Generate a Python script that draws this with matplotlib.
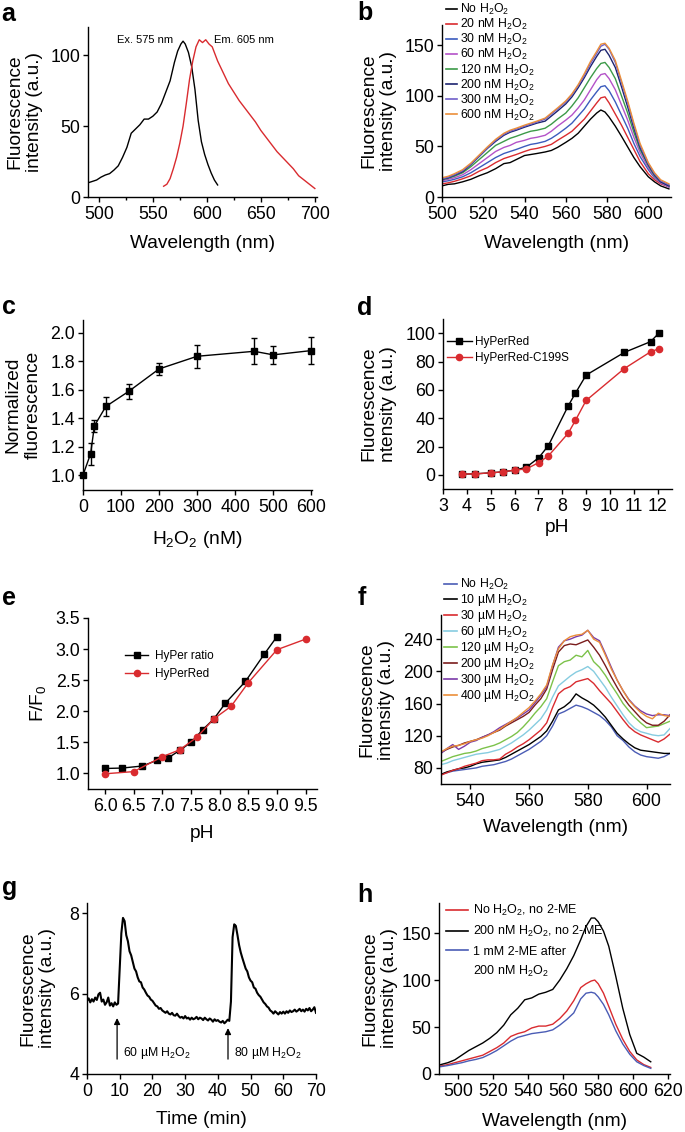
import numpy as np
import matplotlib
matplotlib.use('Agg')
from matplotlib import pyplot as plt
from matplotlib.lines import Line2D
from matplotlib.ticker import FormatStrFormatter

plt.rcParams['font.family'] = ['Liberation Sans', 'DejaVu Sans']
plt.rcParams['mathtext.fontset'] = 'custom'
plt.rcParams['mathtext.rm'] = 'Liberation Sans'
plt.rcParams['mathtext.it'] = 'Liberation Sans:italic'
plt.rcParams['mathtext.bf'] = 'Liberation Sans:bold'

RED = '#d92b2f'
BLUE = '#4a5cb5'

# ---- a: excitation / emission spectra
ex_wl = [490, 494, 498, 502, 506, 510, 514, 518, 522, 526, 530, 534, 538, 542, 546, 550, 554, 558,
         562, 566, 570, 573, 576, 578, 580, 583, 586, 589, 592, 595, 598, 601, 604, 607, 610]
ex_int = [10, 11, 12, 14, 15.5, 16.5, 19, 22, 28, 35, 45, 48, 51, 55, 55, 57, 60, 66,
          74, 82, 95, 103, 108, 110, 108, 102, 92, 76, 54, 39, 30, 23, 17, 12, 8.5]
em_wl = [560, 563, 566, 569, 572, 575, 578, 581, 584, 587, 590, 593, 596, 599, 602, 605, 610, 615,
         620, 625, 630, 635, 640, 645, 650, 655, 660, 665, 670, 675, 680, 685, 690, 695, 700]
em_int = [7.6, 9, 13, 20, 28, 38, 50, 66, 83, 96, 106, 111, 109, 111, 108, 106, 96, 88,
          80, 74, 68, 63, 58, 53, 47, 42, 37, 32, 28, 24, 20, 15, 12, 9, 6]

# ---- b: spectra vs nM H2O2
b_wl = [500, 503, 506, 510, 514, 518, 522, 526, 530, 533, 536, 540, 543, 546, 550, 553, 556, 560,
        563, 566, 569, 572, 575, 577, 579, 581, 584, 587, 590, 593, 596, 600, 603, 606, 610]
b_labels = ['No H$_2$O$_2$', '20 nM H$_2$O$_2$', '30 nM H$_2$O$_2$', '60 nM H$_2$O$_2$',
            '120 nM H$_2$O$_2$', '200 nM H$_2$O$_2$', '300 nM H$_2$O$_2$', '600 nM H$_2$O$_2$']
b_colors = ['black', RED, '#3b5bbd', '#b452c8', '#3c9a48', '#1c2470', '#6f5fc8', '#eb8f3a']
b_no = [11, 12.5, 13, 15, 17.5, 21, 24, 28, 33, 34, 37, 41, 42, 43, 44.5, 46, 49, 54,
        58, 63, 70, 77, 83, 86, 84, 79, 70, 60, 49.5, 39, 30, 20, 15, 11, 8]
b_20 = [13, 14, 15.5, 18, 21, 25.5, 29, 34, 38, 40, 42, 45, 47, 48, 50, 52, 56, 61,
        65, 71, 77, 85, 93, 98, 99, 93, 82, 71, 59, 47, 35, 23, 17, 13, 10]
b_30 = [15, 16, 17.5, 20, 24, 29, 34, 39, 43, 45, 47, 50, 52, 53, 55, 58, 62, 68,
        73, 80, 87, 96, 104, 109, 110, 105, 94, 81, 68, 53, 40, 27, 19, 14, 10]
b_60 = [16, 17.5, 19, 22, 27, 33, 39, 45, 49, 51, 54, 56, 58, 59, 61, 65, 70, 76,
        81, 88, 96, 106, 116, 121, 122, 117, 106, 91, 76, 59, 44, 29, 20, 14, 10]
b_120 = [17, 18.5, 20.5, 24, 30, 37, 44, 51, 55, 58, 60, 63, 65, 66, 68, 72, 77, 83,
         90, 98, 108, 118, 127, 132, 133, 128, 117, 100, 83, 64, 47, 31, 21, 15, 11]
b_200 = [17.5, 19, 21.5, 25, 32, 40, 48, 55, 61, 64, 66, 69, 71, 73, 75, 80, 85, 92,
         99, 108, 118, 129, 139, 145, 146, 140, 128, 109, 89, 68, 49, 32, 22, 15, 11]
b_300 = [18, 19.5, 22, 26, 32.5, 40.5, 48.5, 56, 62, 65, 67, 70, 72, 74, 77, 82, 87, 94,
         101, 110, 120, 132, 142, 149, 151, 146, 133, 113, 93, 71, 51, 33, 23, 16, 12]
b_600 = [19, 20.5, 23, 27, 33.5, 41.5, 49.5, 57, 63, 66, 68, 71, 73, 75, 78, 83, 88, 95,
         102, 111, 122, 134, 144, 151, 152, 147, 135, 115, 95, 73, 53, 34, 24, 17, 13]
b_series = [b_no, b_20, b_30, b_60, b_120, b_200, b_300, b_600]

# ---- c: dose response
c_conc = [0, 20, 30, 60, 120, 200, 300, 450, 500, 600]
c_norm = [1.0, 1.15, 1.346, 1.482, 1.588, 1.746, 1.835, 1.87, 1.845, 1.875]
c_err = [0.0, 0.077, 0.04, 0.07, 0.05, 0.04, 0.08, 0.09, 0.065, 0.095]

# ---- d: pH dependence
d_ph_red = [3.8, 4.35, 5.0, 5.5, 6.0, 6.5, 7.02, 7.42, 8.25, 8.55, 9.0, 10.6, 11.7, 12.05]
d_hyperred = [0.5, 0.7, 1.4, 2.1, 3.3, 5.4, 12.2, 20.7, 48.7, 57.6, 70.4, 86.4, 94, 100]
d_c199s = [0.5, 0.7, 1.4, 2.1, 3.3, 4.2, 8.7, 13.4, 29.4, 38.4, 52.5, 75, 86.8, 89]

# ---- e: F/F0 vs pH
e_ph_hyper = [6.0, 6.3, 6.65, 6.9, 7.1, 7.3, 7.5, 7.7, 7.9, 8.1, 8.45, 8.78, 9.0]
e_hyper = [1.08, 1.087, 1.12, 1.21, 1.25, 1.37, 1.50, 1.70, 1.88, 2.13, 2.48, 2.92, 3.20]
e_ph_red = [6.0, 6.5, 7.0, 7.3, 7.6, 7.9, 8.2, 8.5, 9.0, 9.5]
e_red = [0.995, 1.03, 1.27, 1.38, 1.58, 1.88, 2.08, 2.46, 2.99, 3.16]

# ---- f: spectra vs uM H2O2
f_wl = [530, 532, 534, 536, 538, 540, 542, 544, 546, 548, 550, 552, 554, 556, 558, 560, 562, 564, 566, 568,
        570, 572, 574, 576, 578, 580, 582, 584, 586, 588, 590, 592, 594, 596, 598, 600, 602, 604, 606, 608]
f_labels = ['No H$_2$O$_2$', '10 µM H$_2$O$_2$', '30 µM H$_2$O$_2$', '60 µM H$_2$O$_2$',
            '120 µM H$_2$O$_2$', '200 µM H$_2$O$_2$', '300 µM H$_2$O$_2$', '400 µM H$_2$O$_2$']
f_colors = [BLUE, 'black', RED, '#86cce0', '#7cc24a', '#7a1c1c', '#7a3aa8', '#eb8f3a']
f_no = [72, 74, 76, 77, 78, 79, 80, 82, 83, 84, 86, 88, 91, 95, 99, 103, 108, 113, 120, 132,
        147, 150, 154, 158, 156, 153, 149, 145, 139, 131, 120, 114, 106, 100, 96, 94, 93, 92, 94, 98]
f_10 = [72, 75, 77, 79, 80, 82, 85, 87, 88, 89, 90, 93, 97, 101, 105, 109, 114, 119, 126, 138,
        152, 156, 162, 172, 167, 163, 158, 151, 143, 133, 123, 116, 110, 105, 102, 101, 100, 99, 98, 98]
f_30 = [71, 74, 77, 79, 82, 84, 86, 89, 90, 90, 91, 97, 101, 106, 110, 115, 121, 127, 136, 155,
        172, 178, 181, 187, 189, 191, 185, 176, 168, 160, 150, 140, 131, 125, 121, 118, 115, 112, 116, 122]
f_60 = [84, 86, 89, 91, 93, 95, 97, 98, 99, 101, 103, 107, 111, 116, 121, 127, 134, 141, 152, 168,
        182, 188, 194, 199, 202, 206, 200, 190, 180, 168, 157, 146, 136, 129, 125, 123, 121, 120, 121, 129]
f_120 = [88, 91, 94, 96, 98, 99, 101, 104, 106, 108, 111, 115, 119, 124, 131, 139, 148, 156, 166, 187,
         207, 212, 214, 220, 218, 226, 212, 205, 195, 183, 172, 160, 151, 143, 136, 130, 131, 132, 135, 138]
f_200 = [99, 103, 106, 108, 111, 113, 115, 118, 121, 124, 127, 132, 136, 140, 144, 149, 158, 166, 178, 202,
         224, 232, 234, 233, 236, 239, 230, 220, 207, 193, 180, 168, 158, 150, 142, 136, 133, 133, 138, 146]
f_300 = [98, 104, 109, 103, 107, 112, 114, 118, 121, 125, 130, 134, 138, 142, 147, 152, 161, 170, 181, 207,
         230, 238, 240, 243, 245, 251, 242, 238, 222, 205, 189, 176, 165, 157, 151, 147, 145, 146, 146, 145]
f_400 = [100, 104, 107, 108, 110, 113, 115, 117, 120, 124, 128, 133, 138, 143, 149, 155, 163, 172, 183, 208,
         228, 238, 243, 245, 246, 251, 240, 236, 220, 203, 189, 176, 164, 156, 149, 144, 141, 148, 145, 144]
f_series = [f_no, f_10, f_30, f_60, f_120, f_200, f_300, f_400]

# ---- g: time course, sampled every 0.5 min from 0 to 70 min
g_step = 0.5
g_vals = [5.82, 5.88, 5.78, 5.86, 5.80, 5.90, 5.84, 5.98, 6.02, 5.80, 5.85, 5.72, 5.78, 5.90, 5.70,
          5.76, 5.68, 5.78, 5.72, 5.75, 6.60, 7.50, 7.88, 7.80, 7.45, 7.30, 7.05, 6.95, 6.78, 6.62,
          6.55, 6.40, 6.30, 6.28, 6.15, 6.10, 6.02, 5.95, 5.92, 5.85, 5.82, 5.76, 5.70, 5.68, 5.62,
          5.64, 5.58, 5.55, 5.52, 5.56, 5.50, 5.48, 5.52, 5.46, 5.45, 5.50, 5.44, 5.40, 5.42, 5.38,
          5.44, 5.38, 5.40, 5.35, 5.40, 5.36, 5.38, 5.42, 5.36, 5.40, 5.38, 5.34, 5.40, 5.36, 5.33,
          5.38, 5.35, 5.30, 5.36, 5.32, 5.34, 5.30, 5.28, 5.32, 5.26, 5.30, 5.35, 5.32, 5.80, 7.40,
          7.72, 7.68, 7.45, 7.20, 7.02, 6.88, 6.75, 6.62, 6.55, 6.40, 6.32, 6.28, 6.15, 6.12, 6.02,
          5.96, 5.92, 5.85, 5.78, 5.74, 5.68, 5.65, 5.58, 5.55, 5.50, 5.56, 5.52, 5.48, 5.54, 5.50,
          5.55, 5.50, 5.56, 5.52, 5.58, 5.54, 5.56, 5.60, 5.55, 5.58, 5.62, 5.56, 5.60, 5.55, 5.62,
          5.58, 5.64, 5.56, 5.60, 5.66, 5.52]
g_time = g_step * np.arange(len(g_vals))
g_arrows = [(9.2, 5.39, '60 µM H$_2$O$_2$'), (43.1, 5.14, '80 µM H$_2$O$_2$')]

# ---- h: reversibility
h_wl = [490, 494, 498, 502, 506, 510, 514, 518, 522, 526, 530, 534, 538, 542, 546, 550, 554,
        558, 562, 566, 570, 573, 576, 578, 580, 583, 586, 590, 594, 598, 602, 606, 610]
h_none = [8.5, 10, 12, 14, 16, 18, 20, 24, 28, 33, 40, 43, 45, 49, 51, 51, 53,
          59, 67, 78, 92, 96, 99, 100, 96, 86, 72, 53, 37, 24, 15, 10, 7]
h_h2o2 = [10, 12, 15, 20, 25, 29, 33, 38, 44, 52, 63, 70, 79, 81, 85, 87, 90,
          100, 112, 126, 143, 157, 166, 166, 162, 152, 136, 104, 70, 42, 22, 18, 13]
h_2me = [7.8, 9, 10.5, 12, 14, 15.5, 17.5, 21, 25, 30, 35, 39, 41, 43, 44, 45, 47,
         52, 58, 65, 80, 86, 87, 86, 82, 74, 63, 46, 32, 21, 13, 9, 6]

W, H = 685, 1132
fig = plt.figure(figsize=(W / 100, H / 100), dpi=100)


def make_ax(l, t, r, b):
    ax = fig.add_axes([l / W, 1 - b / H, (r - l) / W, (b - t) / H])
    ax.spines['top'].set_visible(False)
    ax.spines['right'].set_visible(False)
    ax.spines['left'].set_linewidth(1.0)
    ax.spines['bottom'].set_linewidth(1.0)
    ax.tick_params(direction='out', length=3.5, width=1.0, labelsize=12.8)
    ax.tick_params(axis='x', pad=3)
    ax.tick_params(axis='y', pad=2)
    ax.tick_params(which='minor', direction='out', length=2.2, width=1.0)
    return ax


def labels(ax, xl, yl, xoff, yoff):
    # offsets in pixels from the axes edge to the label centre
    ax.set_xlabel(xl, fontsize=13.8, va='center')
    ax.set_ylabel(yl, fontsize=13.8, va='center')
    bb = ax.get_position()
    ax.xaxis.set_label_coords(0.5, -xoff / (bb.height * H))
    ax.yaxis.set_label_coords(-yoff / (bb.width * W), 0.5)


def letter(s, x, y):
    fig.text(x / W, 1 - y / H, s, fontsize=18, fontweight='bold', ha='left', va='baseline')


def legend_at(ax, handles, x, y, **kw):
    leg = ax.legend(handles=handles, loc='upper left', bbox_to_anchor=(x / W, 1 - y / H),
                    bbox_transform=fig.transFigure, frameon=False, borderpad=0,
                    borderaxespad=0, **kw)
    return leg


# a
ax = make_ax(88, 27, 317, 197)
ax.plot(ex_wl, ex_int, color='black', lw=1)
ax.plot(em_wl, em_int, color=RED, lw=1)
ax.set_xlim(490, 702)
ax.set_ylim(0, 120)
ax.set_xticks([500, 550, 600, 650, 700])
ax.set_xticks([525, 575, 625, 675], minor=True)
ax.set_yticks([0, 50, 100])
ax.text(569, 111, 'Ex. 575 nm', ha='right', va='center', fontsize=8)
ax.text(607, 111, 'Em. 605 nm', ha='left', va='center', fontsize=8)
labels(ax, 'Wavelength (nm)', 'Fluorescence\nintensity (a.u.)', 46, 63.5)
letter('a', 1, 21)

# b
ax = make_ax(442, 25, 671, 197)
for vals, col in zip(b_series, b_colors):
    ax.plot(b_wl, vals, color=col, lw=1)
ax.set_xlim(500, 611)
ax.set_ylim(0, 170)
ax.set_xticks([500, 520, 540, 560, 580, 600])
ax.set_yticks([0, 50, 100, 150])
hb = [Line2D([], [], color=c, lw=1.2, label=l) for c, l in zip(b_colors, b_labels)]
legend_at(ax, hb, 446, 2, fontsize=8.8, handlelength=0.9, handletextpad=0.25, labelspacing=0.0)
labels(ax, 'Wavelength (nm)', 'Fluorescence\nintensity (a.u.)', 46, 63)
letter('b', 357, 20)

# c
ax = make_ax(83, 320, 312, 490)
ax.errorbar(c_conc, c_norm, yerr=c_err, color='black', lw=1, marker='s', ms=4,
            capsize=2.2, elinewidth=1, capthick=1, clip_on=False)
ax.set_xlim(0, 602)
ax.set_ylim(0.895, 2.09)
ax.set_xticks([0, 100, 200, 300, 400, 500, 600])
ax.set_yticks([1.0, 1.2, 1.4, 1.6, 1.8, 2.0])
ax.yaxis.set_major_formatter(FormatStrFormatter('%.1f'))
labels(ax, 'H$_2$O$_2$ (nM)', 'Normalized\nfluorescence', 50, 60)
letter('c', 2, 314)

# d
ax = make_ax(443, 319, 672, 489)
ax.plot(d_ph_red, d_hyperred, color='black', lw=1, marker='s', ms=4.5, label='HyPerRed')
ax.plot(d_ph_red, d_c199s, color=RED, lw=1, marker='o', ms=4.5, label='HyPerRed-C199S')
ax.set_xlim(3, 12.6)
ax.set_ylim(-10, 110)
ax.set_xticks(range(3, 13))
ax.set_yticks([0, 20, 40, 60, 80, 100])
h, l = ax.get_legend_handles_labels()
legend_at(ax, h, 447, 336, fontsize=8.5, handlelength=2.1, handletextpad=0.3, labelspacing=0.35)
labels(ax, 'pH', 'Fluorescence\nntensity (a.u.)', 39, 64.5)
letter('d', 357, 315)

# e
ax = make_ax(88, 618, 317, 789)
ax.plot(e_ph_hyper, e_hyper, color='black', lw=1, marker='s', ms=4.5, label='HyPer ratio')
ax.plot(e_ph_red, e_red, color=RED, lw=1, marker='o', ms=4.5, label='HyPerRed')
ax.set_xlim(5.7, 9.7)
ax.set_ylim(0.75, 3.5)
ax.set_xticks([6.0, 6.5, 7.0, 7.5, 8.0, 8.5, 9.0, 9.5])
ax.set_yticks([1.0, 1.5, 2.0, 2.5, 3.0, 3.5])
ax.xaxis.set_major_formatter(FormatStrFormatter('%.1f'))
ax.yaxis.set_major_formatter(FormatStrFormatter('%.1f'))
h, l = ax.get_legend_handles_labels()
legend_at(ax, h, 125, 650, fontsize=8.5, handlelength=1.95, handletextpad=0.6, labelspacing=0.5)
labels(ax, 'pH', 'F/F$_0$', 44, 50.5)
letter('e', 2, 605)

# f
ax = make_ax(441, 615, 670, 784)
for vals, col in zip(f_series, f_colors):
    ax.plot(f_wl, vals, color=col, lw=1)
ax.set_xlim(530, 608)
ax.set_ylim(60, 270)
ax.set_xticks([540, 560, 580, 600])
ax.set_yticks([80, 120, 160, 200, 240])
hf = [Line2D([], [], color=c, lw=1.2, label=l) for c, l in zip(f_colors, f_labels)]
legend_at(ax, hf, 444, 577, fontsize=8.8, handlelength=1.05, handletextpad=0.25, labelspacing=0.0)
labels(ax, 'Wavelength (nm)', 'Fluorescence\nintensity (a.u.)', 44, 64.5)
letter('f', 358, 605)

# g
ax = make_ax(87, 903, 316, 1074)
ax.plot(g_time, g_vals, color='black', lw=1.5)
for t, top, txt in g_arrows:
    ax.annotate('', xy=(t, top), xytext=(t, 4.37),
                arrowprops=dict(arrowstyle='-|>', color='black', lw=0.9,
                                mutation_scale=9, shrinkA=0, shrinkB=0))
    ax.text(t + 1.7, 4.52, txt, fontsize=8.8, ha='left', va='center')
ax.set_xlim(0, 70)
ax.set_ylim(4, 8.25)
ax.set_xticks(range(0, 71, 10))
ax.set_yticks([4, 6, 8])
labels(ax, 'Time (min)', 'Fluorescence\nintensity (a.u.)', 46, 49.5)
letter('g', 2, 895)

# h
ax = make_ax(439, 903, 670, 1074)
ax.plot(h_wl, h_none, color=RED, lw=1)
ax.plot(h_wl, h_h2o2, color='black', lw=1)
ax.plot(h_wl, h_2me, color=BLUE, lw=1)
ax.set_xlim(489, 621)
ax.set_ylim(0, 182)
ax.set_xticks(range(500, 621, 20))
ax.set_yticks([0, 50, 100, 150])
hh = [Line2D([], [], color=RED, lw=1.2, label='No H$_2$O$_2$, no 2-ME'),
      Line2D([], [], color='black', lw=1.2, label='200 nM H$_2$O$_2$, no 2-ME'),
      Line2D([], [], color=BLUE, lw=1.2, label='1 mM 2-ME after'),
      Line2D([], [], color='none', lw=1.2, label='200 nM H$_2$O$_2$')]
legend_at(ax, hh, 446, 903, fontsize=9, handlelength=1.75, handletextpad=0.4, labelspacing=0.5)
labels(ax, 'Wavelength (nm)', 'Fluorescence\nintensity (a.u.)', 48, 59.5)
letter('h', 357, 902)

fig.savefig('out.png', dpi=100)
